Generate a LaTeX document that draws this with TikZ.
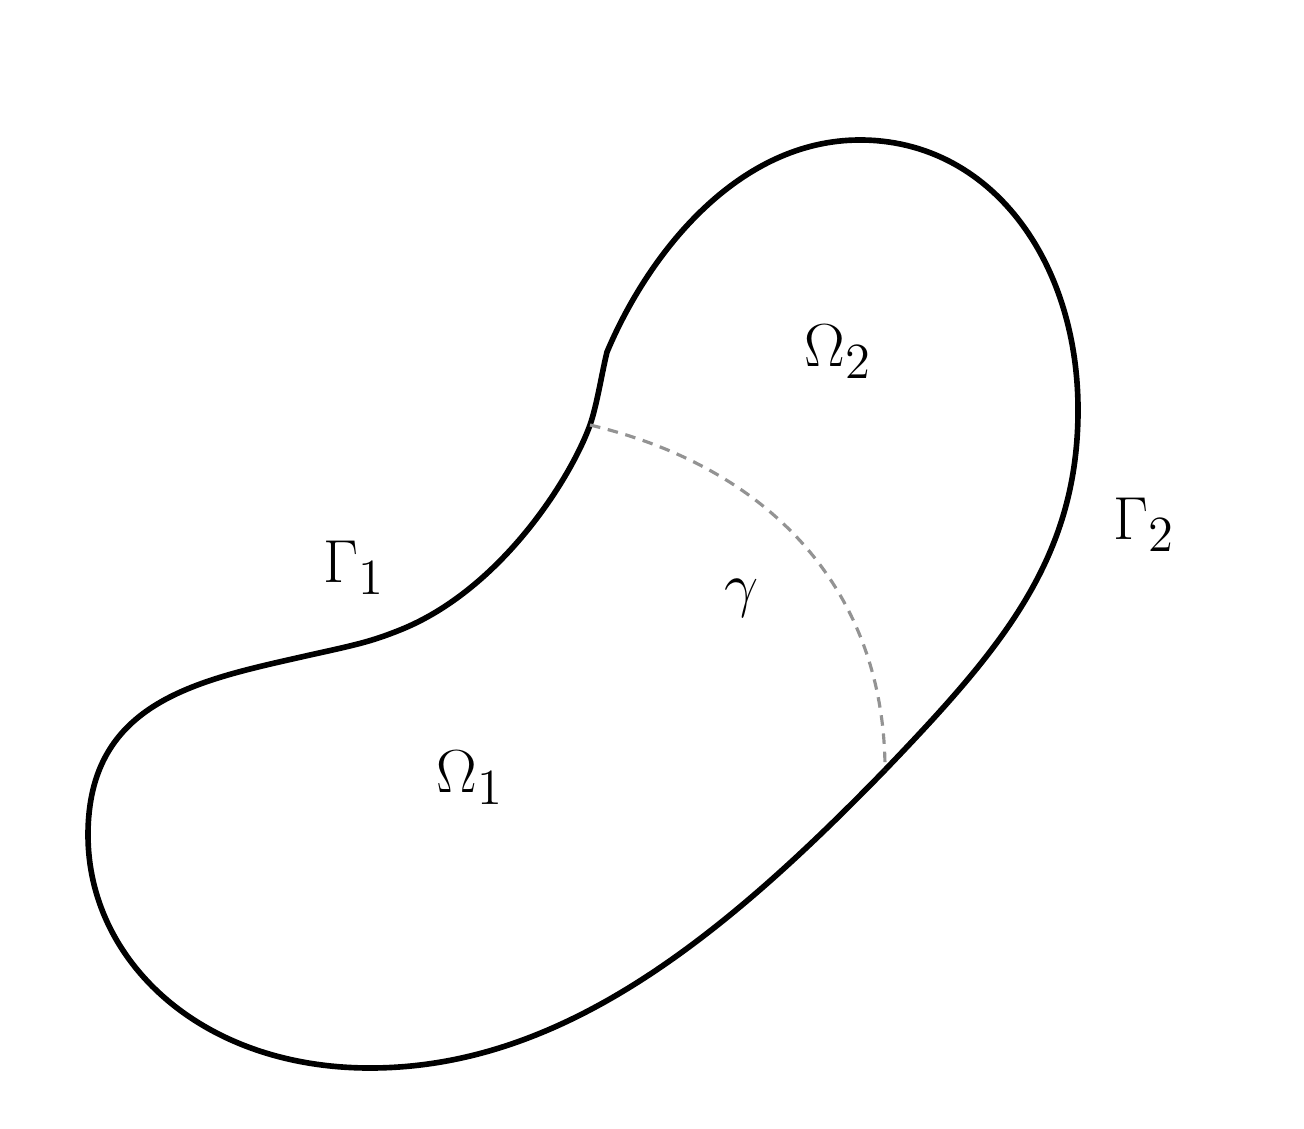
\documentclass[tikz,border=0pt]{standalone}
\begin{document}
\begin{tikzpicture}[x=0.01cm,y=-0.01cm,
  boundary/.style={line width=1.6pt,line join=round,line cap=round},
  interface/.style={gray!85,line width=0.9pt,dash pattern=on 3pt off 2.2pt},
  lbl/.style={font=\fontsize{19}{23}\selectfont,inner sep=0pt}]
\useasboundingbox (0,0) rectangle (1304,1128);
\coordinate (k) at (607,352);
\coordinate (top) at (860,140);
\coordinate (r) at (1078,410);
\coordinate (m) at (885,770);
\coordinate (b) at (370,1068);
\coordinate (l) at (88,835);
\coordinate (g1) at (400,630);
\coordinate (a) at (590,425);
\draw[boundary] (k)
  .. controls (650,250) and (740,140) .. (top)
  .. controls (990,140) and (1078,260) .. (r)
  .. controls (1078,560) and (1000,650) .. (m)
  .. controls (720,940) and (560,1068) .. (b)
  .. controls (200,1068) and (88,960) .. (l)
  .. controls (88,700) and (200,680) .. (310,655)
  .. controls (355,645) and (370,642) .. (g1)
  .. controls (500,590) and (570,480) .. (a)
  .. controls (597,405) and (602,372) .. (k);
\draw[interface] (a) .. controls (780,470) and (885,600) .. (m);
\node[lbl] (o2) at (838,352) {$\Omega_2$};
\node[lbl] (o1) at (470,778) {$\Omega_1$};
\node[lbl] (G1) at (354,568) {$\Gamma_1$};
\node[lbl] (G2) at (1144,525) {$\Gamma_2$};
\node[lbl] (gam) at (742,598) {$\gamma$};
\end{tikzpicture}
\end{document}
